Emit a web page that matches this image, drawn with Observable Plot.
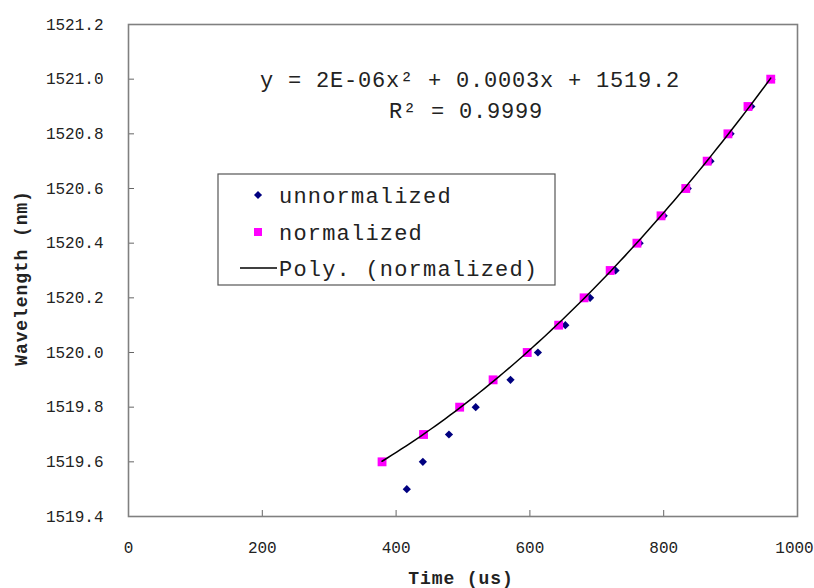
<!DOCTYPE html>
<html><head><meta charset="utf-8">
<script src="https://cdn.jsdelivr.net/npm/d3@7"></script>
<script src="https://cdn.jsdelivr.net/npm/@observablehq/plot@0.6"></script>
<style>
body{margin:0;background:#fff}
#chart{position:relative;width:814px;height:588px;overflow:hidden}
</style>
</head><body><div id="chart"></div>
<script>
// ---- data ----
const normTime = [379, 441, 495, 545, 596, 643, 681, 720, 760, 796, 833, 865, 896, 926, 960];
const normWave = [1519.6, 1519.7, 1519.8, 1519.9, 1520.0, 1520.1, 1520.2, 1520.3, 1520.4, 1520.5, 1520.6, 1520.7, 1520.8, 1520.9, 1521.0];
const unnormTime = [416, 440, 479, 519, 571, 612, 653, 690, 728, 764, 800, 836, 870, 900, 931, 961];
const unnormWave = [1519.5, 1519.6, 1519.7, 1519.8, 1519.9, 1520.0, 1520.1, 1520.2, 1520.3, 1520.4, 1520.5, 1520.6, 1520.7, 1520.8, 1520.9, 1521.0];
const xTicks = [0, 200, 400, 600, 800, 1000];
const yTicks = [1519.4, 1519.6, 1519.8, 1520.0, 1520.2, 1520.4, 1520.6, 1520.8, 1521.0, 1521.2];
const seriesNames = ["unnormalized", "normalized", "Poly. (normalized)"];
const equationText = "y = 2E-06x² + 0.0003x + 1519.2";
const r2Text = "R² = 0.9999";
const xLabel = "Time (us)";
const yLabel = "Wavelength (nm)";

const norm = normTime.map((t, i) => ({t, w: normWave[i]}));
const unnorm = unnormTime.map((t, i) => ({t, w: unnormWave[i]}));

// ---- quadratic least-squares trendline fitted to the normalized series ----
function polyFit2(xs, ys) {
  const mx = d3.mean(xs);
  const S = [0,0,0,0,0], T = [0,0,0];
  xs.forEach((x0, i) => {
    const x = x0 - mx, y = ys[i];
    let p = 1;
    for (let k = 0; k < 5; k++) { S[k] += p; if (k < 3) T[k] += p * y; p *= x; }
  });
  const A = [[S[0],S[1],S[2],T[0]],[S[1],S[2],S[3],T[1]],[S[2],S[3],S[4],T[2]]];
  for (let c = 0; c < 3; c++) {
    for (let r = c + 1; r < 3; r++) {
      const f = A[r][c] / A[c][c];
      for (let k = c; k < 4; k++) A[r][k] -= f * A[c][k];
    }
  }
  const b = [0,0,0];
  for (let r = 2; r >= 0; r--) {
    let s = A[r][3];
    for (let k = r + 1; k < 3; k++) s -= A[r][k] * b[k];
    b[r] = s / A[r][r];
  }
  return x => { const u = x - mx; return b[0] + b[1]*u + b[2]*u*u; };
}
const fit = polyFit2(normTime, normWave);
const tMin = d3.min(normTime), tMax = d3.max(normTime);
const trend = d3.range(0, 81).map(i => { const t = tMin + (tMax - tMin) * i / 80; return {t, w: fit(t)}; });

const FONT = "'Liberation Mono', 'DejaVu Sans Mono', monospace";

const svg = Plot.plot({
  width: 814, height: 588,
  marginLeft: 128, marginRight: 17, marginTop: 24, marginBottom: 72,
  style: {fontFamily: FONT, fontSize: "16px", color: "#222", background: "#fff"},
  x: {domain: [0, 1000]},
  y: {domain: [1519.4, 1521.2]},
  marks: [
    Plot.axisX(xTicks, {tickSize: -6, tickFormat: () => "", label: null, stroke: "#666"}),
    Plot.axisY(yTicks, {tickSize: -6, tickFormat: () => "", label: null, stroke: "#666"}),
    Plot.axisX(xTicks, {tickSize: 0, tickPadding: 25, label: null, tickFormat: d => String(d), fill: "#222"}),
    Plot.axisY(yTicks, {tickSize: 0, tickPadding: 25, label: null, tickFormat: d => d.toFixed(1), fill: "#222"}),
    Plot.frame({stroke: "#808080", strokeWidth: 1.6}),
    Plot.dot(unnorm, {x: "t", y: "w", symbol: "diamond2", r: 3.7, fill: "#000080", stroke: "none"}),
    Plot.dot(norm, {x: "t", y: "w", symbol: "square", r: 5, fill: "#ff00ff", stroke: "none"}),
    Plot.line(trend, {x: "t", y: "w", stroke: "#000", strokeWidth: 1.5})
  ]
});
document.getElementById("chart").appendChild(svg);

const s = d3.select(svg);
// keep the last x tick label ("1000") inside the picture
s.selectAll("text").filter(function() { return this.textContent === "1000"; }).attr("dx", -3);

// axis titles
s.append("text").text(xLabel)
  .attr("x", 461).attr("y", 584).attr("text-anchor", "middle")
  .attr("font-family", FONT).attr("font-size", 18).attr("font-weight", "bold")
  .attr("letter-spacing", 0.9).attr("fill", "#222");
s.append("text").text(yLabel)
  .attr("transform", "translate(21,278) rotate(-90)").attr("text-anchor", "middle").attr("dy", "0.35em")
  .attr("font-family", FONT).attr("font-size", 18).attr("font-weight", "bold")
  .attr("letter-spacing", 0.9).attr("fill", "#222");
// trendline equation
s.append("text").text(equationText)
  .attr("x", 470).attr("y", 87).attr("text-anchor", "middle")
  .attr("font-family", FONT).attr("font-size", 22).attr("letter-spacing", 0.8).attr("fill", "#222");
s.append("text").text(r2Text)
  .attr("x", 466).attr("y", 118).attr("text-anchor", "middle")
  .attr("font-family", FONT).attr("font-size", 22).attr("letter-spacing", 0.8).attr("fill", "#222");
// legend
const lg = s.append("g");
lg.append("rect").attr("x", 218).attr("y", 174).attr("width", 337).attr("height", 111)
  .attr("fill", "#fff").attr("stroke", "#555").attr("stroke-width", 1.2);
const rows = [195, 232, 268];
lg.append("path").attr("d", d3.symbol(d3.symbolDiamond2, 42)()).attr("transform", `translate(258,${rows[0]})`).attr("fill", "#000080");
lg.append("path").attr("d", d3.symbol(d3.symbolSquare, 64)()).attr("transform", `translate(258,${rows[1]})`).attr("fill", "#ff00ff");
lg.append("line").attr("x1", 240).attr("x2", 277).attr("y1", rows[2]).attr("y2", rows[2]).attr("stroke", "#000").attr("stroke-width", 1.5);
seriesNames.forEach((n, i) => {
  lg.append("text").text(n).attr("x", 279).attr("y", rows[i]).attr("dy", "0.35em").attr("text-anchor", "start")
    .attr("font-family", FONT).attr("font-size", 22).attr("letter-spacing", 1.2).attr("fill", "#222");
});
</script>
</body></html>
